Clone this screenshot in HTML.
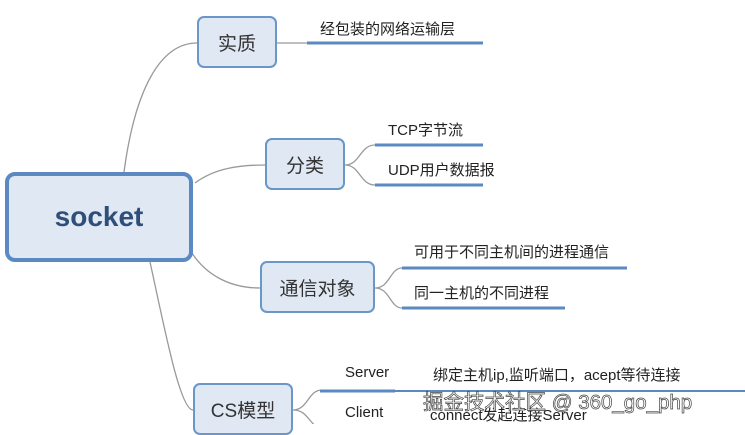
<!DOCTYPE html>
<html><head><meta charset="utf-8"><style>
body{margin:0;background:#fff;width:745px;height:424px;overflow:hidden;position:relative;font-family:"Liberation Sans","Noto Sans CJK SC",sans-serif}
.b{position:absolute;box-sizing:border-box;border:2.5px solid #6a96c8;border-radius:7px;background:#dfe8f3;color:#333;display:flex;align-items:center;justify-content:center}
.t{position:absolute;font-size:15px;color:#222;white-space:nowrap}
</style></head><body>
<svg width="745" height="424" style="position:absolute;left:0;top:0">
<g fill="none" stroke="#999" stroke-width="1.3">
<path d="M124 172 C135 90 160 43 197 43"/>
<path d="M195 183 C215 168 240 165 265 165"/>
<path d="M190 250 C205 275 230 288 260 288"/>
<path d="M150 262 C165 330 180 410 193 410"/>
<path d="M277 43 H307"/>
<path d="M345 165 C360 165 360 145 375 145 M345 165 C360 165 360 185 375 185"/>
<path d="M375 288 C390 288 390 268 402 268 M375 288 C390 288 390 308 402 308"/>
<path d="M293 410 C308 410 308 390 322 390 M293 410 C308 410 308 424 322 430"/>
</g>
<g stroke="#5b8ac2" stroke-width="3">
<path d="M307 43 H483"/><path d="M375 145 H483"/><path d="M375 185 H483"/>
<path d="M402 268 H627"/><path d="M402 308 H565"/>
<path d="M320 391 H395"/><path d="M395 391 H745" stroke-width="2"/>
</g>
</svg>
<div class="b" style="left:197px;top:16px;width:80px;height:52px;font-size:19px">实质</div>
<div class="b" style="left:265px;top:138px;width:80px;height:52px;font-size:19px">分类</div>
<div class="b" style="left:5px;top:172px;width:188px;height:90px;font-size:28px;font-weight:bold;color:#2f4f7a;border-width:4px;border-color:#5b8ac2;border-radius:10px">socket</div>
<div class="b" style="left:260px;top:261px;width:115px;height:52px;font-size:19px">通信对象</div>
<div class="b" style="left:193px;top:383px;width:100px;height:52px;font-size:19px">CS模型</div>
<div class="t" style="left:320px;top:18px">经包装的网络运输层</div>
<div class="t" style="left:388px;top:119px">TCP字节流</div>
<div class="t" style="left:388px;top:159px">UDP用户数据报</div>
<div class="t" style="left:414px;top:241px">可用于不同主机间的进程通信</div>
<div class="t" style="left:414px;top:282px">同一主机的不同进程</div>
<div class="t" style="left:345px;top:364px">Server</div>
<div class="t" style="left:433px;top:364px">绑定主机ip,监听端口，acept等待连接</div>
<div class="t" style="left:345px;top:404px">Client</div>
<div class="t" style="left:430px;top:404px">connect发起连接Server</div>
<div class="t" style="left:423px;top:385px;font-size:20.5px;color:#fff;-webkit-text-stroke:0.7px #444">掘金技术社区 @ 360_go_php</div>
</body></html>
